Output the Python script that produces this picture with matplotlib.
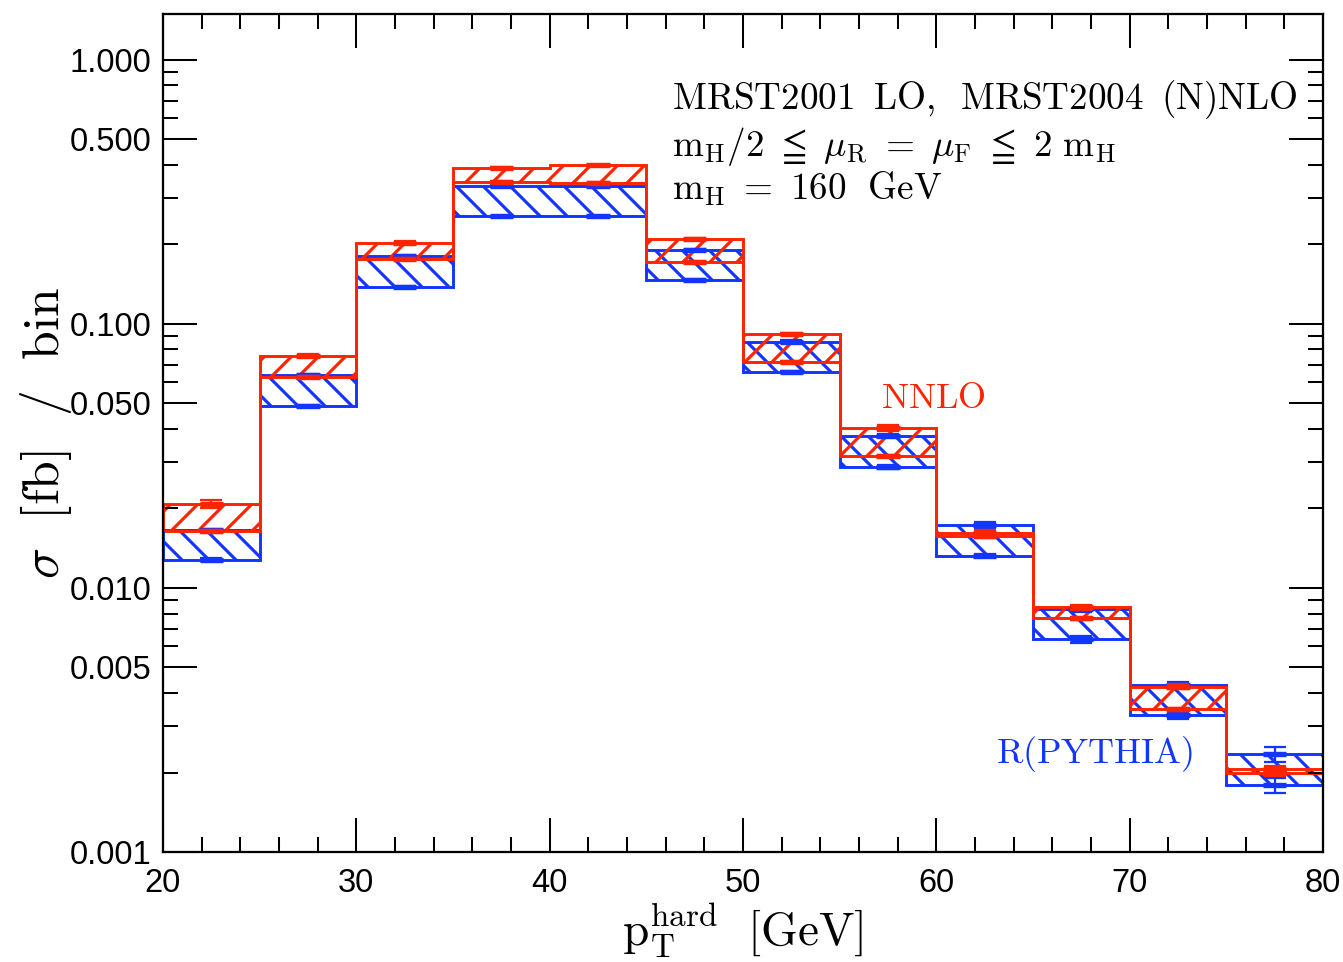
import numpy as np
import matplotlib
matplotlib.use("Agg")
import matplotlib.pyplot as plt
from matplotlib.ticker import FixedLocator, NullFormatter

# =============================================================================
# DATOS — sección eficaz por bin de p_T^hard
# =============================================================================

bin_edges = [20, 25, 30, 35, 40, 45, 50, 55, 60, 65, 70, 75, 80]

# NNLO: banda de escala (mu = m_H/2 ... 2 m_H)
nnlo_hi = [0.0208, 0.0757, 0.203, 0.389, 0.398, 0.209, 0.0914, 0.0404, 0.0162, 0.00845, 0.00423, 0.00206]
nnlo_lo = [0.0164, 0.0629, 0.176, 0.344, 0.341, 0.171, 0.0716, 0.0316, 0.0157, 0.00767, 0.00347, 0.00199]
nnlo_hi_err = [0.0007, 0.0010, 0.002, 0.003, 0.003, 0.002, 0.0010, 0.0010, 0.0003, 0.0002, 0.0001, 0.00005]
nnlo_lo_err = [0.0002, 0.0006, 0.0015, 0.003, 0.003, 0.0015, 0.0007, 0.0004, 0.0003, 0.0001, 0.00005, 0.00005]

# R(PYTHIA): banda de escala
pyth_hi = [0.0165, 0.0640, 0.180, 0.334, 0.334, 0.1905, 0.0857, 0.0377, 0.0173, 0.00830, 0.00429, 0.00234]
pyth_lo = [0.0128, 0.0489, 0.138, 0.255, 0.255, 0.146, 0.0655, 0.0287, 0.01325, 0.00640, 0.00330, 0.00179]
pyth_hi_err = [0.0002, 0.0006, 0.0015, 0.003, 0.003, 0.002, 0.0008, 0.0004, 0.0004, 0.0002, 0.0001, 0.00015]
pyth_lo_err = [0.0002, 0.0005, 0.0012, 0.002, 0.002, 0.0012, 0.0006, 0.0004, 0.0002, 0.0002, 0.0001, 0.00012]

y_ticks = [0.001, 0.005, 0.01, 0.05, 0.1, 0.5, 1.0]

# =============================================================================
# ESTILO
# =============================================================================

DPI = 162
RED = "#ff2400"
BLUE = "#1236ff"

plt.rcParams["mathtext.fontset"] = "cm"
plt.rcParams["hatch.linewidth"] = 1.4
plt.rcParams["font.family"] = ["Liberation Sans", "DejaVu Sans"]

edges = np.array(bin_edges, dtype=float)
width = np.diff(edges)
centers = edges[:-1] + width / 2

fig = plt.figure(figsize=(1343 / DPI, 962 / DPI), dpi=DPI)
ax = fig.add_axes([163 / 1343, 1 - 852 / 962, 1160 / 1343, 838 / 962])
ax.set_yscale("log")


def banda(lo, hi, lo_err, hi_err, color, hatch):
    lo = np.array(lo)
    hi = np.array(hi)
    # relleno rayado entre las dos elecciones de escala
    ax.fill_between(edges, np.append(lo, lo[-1]), np.append(hi, hi[-1]), step="post",
                    facecolor="none", edgecolor=color, hatch=hatch, linewidth=0)
    # contornos en escalera
    ax.stairs(hi, edges, baseline=None, color=color, linewidth=1.3)
    ax.stairs(lo, edges, baseline=None, color=color, linewidth=1.3)
    ax.vlines([edges[0], edges[-1]], [lo[0], lo[-1]], [hi[0], hi[-1]], color=color, linewidth=1.3)
    # error estadístico en el centro del bin
    for vals, err in ((lo, lo_err), (hi, hi_err)):
        ax.errorbar(centers, vals, yerr=err, fmt="none", ecolor=color,
                    elinewidth=1.0, capsize=5, capthick=1.0)
        ax.errorbar(centers, vals, fmt="none", xerr=0.6, ecolor=color,
                    elinewidth=2.4)


banda(pyth_lo, pyth_hi, pyth_lo_err, pyth_hi_err, BLUE, "\\\\")
banda(nnlo_lo, nnlo_hi, nnlo_lo_err, nnlo_hi_err, RED, "//")

# =============================================================================
# EJES
# =============================================================================

ax.set_xlim(20, 80)
ax.set_ylim(0.001, 1.49)

ax.set_xticks(np.arange(20, 81, 10))
ax.xaxis.set_minor_locator(FixedLocator(np.arange(20, 81, 2)))
ax.yaxis.set_major_locator(FixedLocator(y_ticks))
ax.set_yticklabels([f"{t:.3f}" for t in y_ticks])
minors = [m * d for d in (0.001, 0.01, 0.1, 1.0) for m in (2, 3, 4, 6, 7, 8, 9)]
ax.yaxis.set_minor_locator(FixedLocator(minors))
ax.yaxis.set_minor_formatter(NullFormatter())

ax.tick_params(which="both", direction="in", top=True, right=True, width=0.9,
               labelsize=14.5, colors="black")
ax.tick_params(which="major", length=15)
ax.tick_params(which="minor", length=6.5)
ax.tick_params(axis="x", pad=7)
ax.tick_params(axis="y", pad=5)
for s in ax.spines.values():
    s.set_linewidth(1.0)

ax.set_xlabel(r"$\mathrm{p_T^{hard}}\ \ [\mathrm{GeV}]$", fontsize=21, labelpad=1)
ax.set_ylabel(r"$\sigma\ \ [\mathrm{fb}]\ \ /\ \ \mathrm{bin}$", fontsize=23, labelpad=-2)

# =============================================================================
# TEXTOS
# =============================================================================

tkw = dict(transform=ax.transAxes, fontsize=16.5, ha="left", va="baseline")
ax.text(0.439, 0.886, r"$\mathrm{MRST2001\ \:LO,\ \:MRST2004\ \:(N)NLO}$", **tkw)
ax.text(0.439, 0.830, r"$\mathrm{m_H/2}\ \leqq\ \mu_\mathrm{R}\ =\ \mu_\mathrm{F}\ \leqq\ 2\ \mathrm{m_H}$", **tkw)
ax.text(0.439, 0.778, r"$\mathrm{m_H\ =\ 160\ \ GeV}$", **tkw)

ax.text(59.85, 0.0481, r"$\mathrm{NNLO}$", color=RED, fontsize=16, ha="center", va="baseline")
ax.text(68.2, 0.00217, r"$\mathrm{R(PYTHIA)}$", color=BLUE, fontsize=16, ha="center", va="baseline")

fig.savefig("out.png", dpi=DPI)
